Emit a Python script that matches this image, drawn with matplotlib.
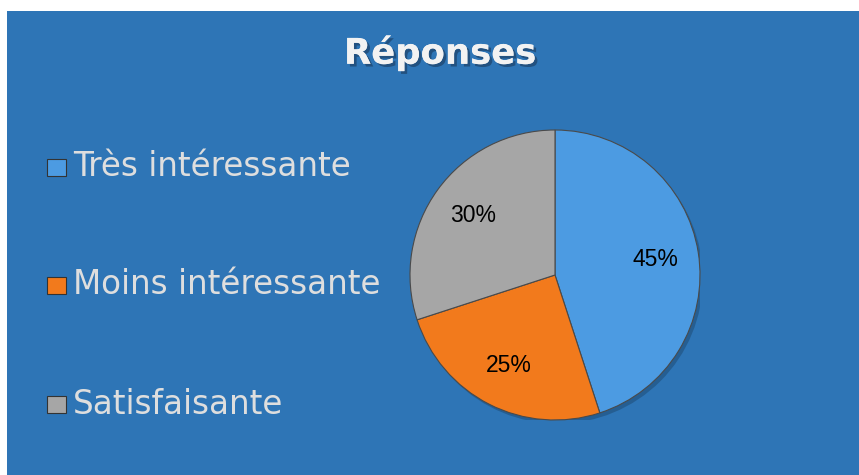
import matplotlib.pyplot as plt
import matplotlib.patheffects as pe
from matplotlib.patches import Rectangle, Circle

# donnees
categories = ['Très intéressante', 'Moins intéressante', 'Satisfaisante']
valeurs = [45, 25, 30]
couleurs = ['#4c9be2', '#f27a1c', '#a6a6a6']
titre = 'Réponses'

W, H = 859, 475
fig = plt.figure(figsize=(W / 100, H / 100), dpi=100)
fig.patch.set_facecolor('white')
bg = '#2e75b6'
fig.patches.append(Rectangle((7 / W, 0), 1 - 7 / W, 1 - 11 / H,
                             transform=fig.transFigure, facecolor=bg,
                             edgecolor='none', zorder=-1))

# titre avec ombre
fig.text(440 / W, 1 - 53 / H, titre, ha='center', va='center',
         fontsize=25.5, fontweight='bold', color='#f2f2f2',
         family='DejaVu Sans',
         path_effects=[pe.withSimplePatchShadow(offset=(2, -2), shadow_rgbFace='#1a3a5c', alpha=0.6),
                       pe.Normal()])

cx, cy, r = 555, 275, 145
ax = fig.add_axes([(cx - r) / W, (H - cy - r) / H, 2 * r / W, 2 * r / H])
ax.set_zorder(2)
ax.set_facecolor('none')
# ombre du camembert
ax.add_patch(Circle((0.02, -0.025), 1.0, facecolor='#1f4f7a', alpha=0.6,
                    edgecolor='none', zorder=0))
wedges, texts, autotexts = ax.pie(valeurs, colors=couleurs, startangle=90,
                                  counterclock=False, autopct='%1.0f%%',
                                  pctdistance=0.7, radius=1,
                                  wedgeprops=dict(edgecolor='#4a4a4a', linewidth=0.8),
                                  textprops=dict(fontsize=16.5, color='black',
                                                 family='Liberation Sans'))
for w in wedges:
    w.set_zorder(1)
ax.set_xlim(-1.0, 1.0)
ax.set_ylim(-1.0, 1.0)
ax.set_aspect('equal')
ax.axis('off')

# legende manuelle
ys = [167, 285, 404]
for nom, c, y in zip(categories, couleurs, ys):
    fig.patches.append(Rectangle((47 / W, (H - y - 9) / H), 19 / W, 17 / H,
                                 transform=fig.transFigure, facecolor=c,
                                 edgecolor='#333333', linewidth=0.8, zorder=3))
    fig.text(73 / W, (H - y) / H, nom, ha='left', va='center',
             fontsize=23.5, color='#dedede', family='DejaVu Sans')

plt.savefig('out.png', dpi=100, facecolor=fig.get_facecolor())
